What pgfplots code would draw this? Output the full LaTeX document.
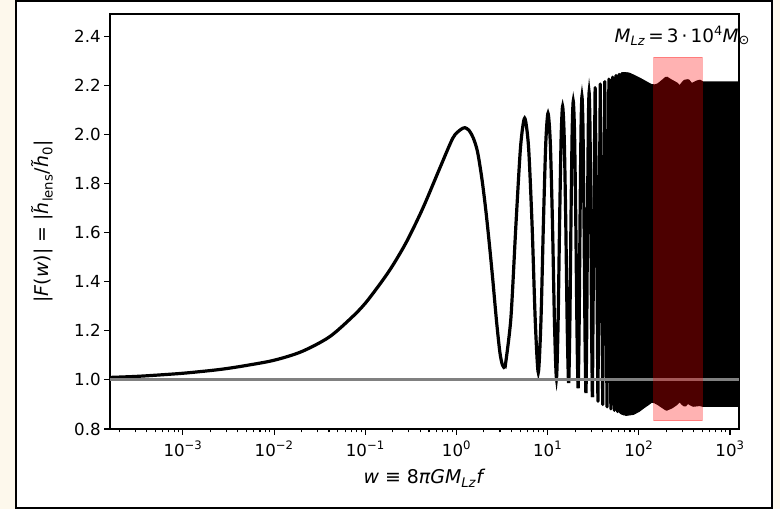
\documentclass[border=0pt]{standalone}
\usepackage{fontspec}
\setmainfont{DejaVu Sans}
\usepackage{pgfplots}
\pgfplotsset{compat=1.18}
\definecolor{cream}{RGB}{253,248,236}

\begin{document}
\begin{tikzpicture}
\useasboundingbox (0bp,0bp) rectangle (780bp,509bp);
\fill[cream] (0bp,0bp) rectangle (780bp,509bp);
\draw[line width=1.6bp, fill=white] (15.8bp,0.8bp) rectangle (771.8bp,508.2bp);
\begin{axis}[
    at={(110bp,80bp)}, anchor=south west,
    scale only axis, width=629bp, height=415bp,
    xmode=log,
    xmin=1.585e-4, xmax=1256,
    ymin=0.8, ymax=2.49,
    clip mode=individual,
    axis line style={line width=1.3bp},
    tick pos=left,
    tick align=outside,
    major tick length=5.8bp,
    minor tick length=3.3bp,
    every tick/.style={black, line width=1.1bp},
    xtick={1e-3,1e-2,1e-1,1,10,100,1000},
    xticklabels={10\textsuperscript{−3},10\textsuperscript{−2},10\textsuperscript{−1},
                 10\textsuperscript{0},10\textsuperscript{1},10\textsuperscript{2},10\textsuperscript{3}},
    minor xtick={2e-4,3e-4,4e-4,5e-4,6e-4,7e-4,8e-4,9e-4,
                 2e-3,3e-3,4e-3,5e-3,6e-3,7e-3,8e-3,9e-3,
                 2e-2,3e-2,4e-2,5e-2,6e-2,7e-2,8e-2,9e-2,
                 0.2,0.3,0.4,0.5,0.6,0.7,0.8,0.9,
                 2,3,4,5,6,7,8,9,20,30,40,50,60,70,80,90,
                 200,300,400,500,600,700,800,900},
    ytick={0.8,1.0,1.2,1.4,1.6,1.8,2.0,2.2,2.4},
    yticklabels={0.8,1.0,1.2,1.4,1.6,1.8,2.0,2.2,2.4},
    tick label style={font=\fontsize{16.7}{20}\selectfont},
    xticklabel style={yshift=-3bp},
    xlabel={\textit{w} ≡ 8\textit{πGM}\textsubscript{\textit{Lz}}\textit{f}},
    ylabel={|\textit{F}(\textit{w})| = |\textit{h̃}\textsubscript{lens}/\textit{h̃}\textsubscript{0}|},
    every axis x label/.style={at={(axis description cs:0.5,-0.118)}, anchor=center,
        font=\fontsize{19}{22}\selectfont},
    every axis y label/.style={at={(axis description cs:-0.108,0.5)}, rotate=90, anchor=center,
        font=\fontsize{19}{22}\selectfont},
]

% |F(w)|: smooth rise and first peak
\addplot[black, line width=3.2bp, smooth, tension=0.5] coordinates {
(1.585e-4,1.010) (3e-4,1.014) (5e-4,1.019) (1e-3,1.027) (2e-3,1.038)
(3e-3,1.046) (5e-3,1.059) (1e-2,1.080) (2e-2,1.115) (4e-2,1.174)
(7e-2,1.252) (0.1,1.312) (0.15,1.398) (0.2,1.466) (0.286,1.565)
(0.429,1.700) (0.658,1.863) (0.914,1.985) (1.1,2.018) (1.24,2.027)
(1.38,2.015) (1.53,1.985) (1.7,1.930) (1.9,1.820) (2.1,1.690)
(2.3,1.550) (2.5,1.410) (2.75,1.240) (3.0,1.110) (3.2,1.060) (3.4,1.047)
};
% resolved oscillations
\addplot[black, line width=3.2bp, smooth, tension=0.45] coordinates {
(3.4,1.047)
(3.95,1.249) (4.5,1.638) (5.05,1.950) (5.6,2.066)
(6.175,1.949) (6.75,1.632) (7.325,1.237) (7.9,1.030)
(8.45,1.242) (9.0,1.645) (9.55,1.967) (10.1,2.086)
(10.7,1.965) (11.3,1.638) (11.9,1.226) (12.5,1.007)
(13.025,1.233) (13.55,1.656) (14.075,1.991) (14.6,2.114)
(15.2,1.989) (15.8,1.650) (16.4,1.219) (17.0,0.987)
(17.525,1.224) (18.05,1.663) (18.575,2.008) (19.1,2.135)
(19.725,2.007) (20.35,1.657) (20.975,1.210) (21.6,0.966)
(22.15,1.215) (22.7,1.670) (23.25,2.025) (23.8,2.155)
(24.425,2.024) (25.05,1.664) (25.675,1.202) (26.3,0.946)
(26.85,1.206) (27.4,1.675) (27.95,2.038) (28.5,2.171)
(29.125,2.037) (29.75,1.670) (30.375,1.195) (31.0,0.930)
};
% barely resolved oscillations
\addplot[black, line width=3.2bp, line join=round] coordinates {
(31.0,0.930)
(32.1,1.679) (33.2,2.190) (34.4,1.676) (35.6,0.913)
(37.8,2.205) (40.2,0.900) (42.4,2.215) (44.8,0.890)
(47.0,2.225) (49.4,0.882) (51.6,2.233) (54.0,0.876)
(56.2,2.240) (58.6,0.871) (60.8,2.244) (63.2,0.867)
(65.4,2.247) (67.8,0.862) (70.0,2.247) (72.4,0.860)
(74.6,2.246) (77.0,0.860)
};

% unresolved fast oscillations: upper envelope, then lower envelope back
\addplot[black, fill=black, line width=3.2bp, line join=round] coordinates {
(65,2.246) (70,2.247) (78,2.245) (87,2.237) (100,2.226) (112,2.216)
(125,2.206) (138,2.198) (150,2.197) (163,2.201) (180,2.214) (201,2.229)
(215,2.222) (229,2.216) (259,2.205) (282,2.191) (300,2.205) (320,2.216)
(348,2.218) (362,2.210) (378,2.202) (400,2.206) (430,2.212) (467,2.216)
(500,2.209) (700,2.209) (1256,2.209)
(1256,0.897) (700,0.897) (500,0.897) (467,0.900) (396,0.897) (360,0.905)
(348,0.918) (335,0.905) (320,0.897) (300,0.905) (282,0.918) (255,0.902)
(229,0.890) (201,0.881) (180,0.893) (163,0.904) (150,0.911) (138,0.914)
(125,0.902) (112,0.890) (100,0.876) (87,0.864) (73,0.860) (65,0.865)
} -- cycle;

% unlensed reference
\addplot[gray, line width=3.2bp] coordinates {(1.585e-4,1.0) (1256,1.0)};

% highlighted band
\addplot[fill=red, fill opacity=0.3, draw=red, draw opacity=0.3, line width=1.2bp]
  coordinates {(145,0.834) (495,0.834) (495,2.313) (145,2.313)} -- cycle;

\node[font=\fontsize{18.5}{20}\selectfont] at (axis cs:300,2.40)
  {\textit{M}\textsubscript{\textit{Lz}}\,=\,3\,·\,10\textsuperscript{4}\textit{M}\textsubscript{⊙}};
\end{axis}
\end{tikzpicture}
\end{document}
